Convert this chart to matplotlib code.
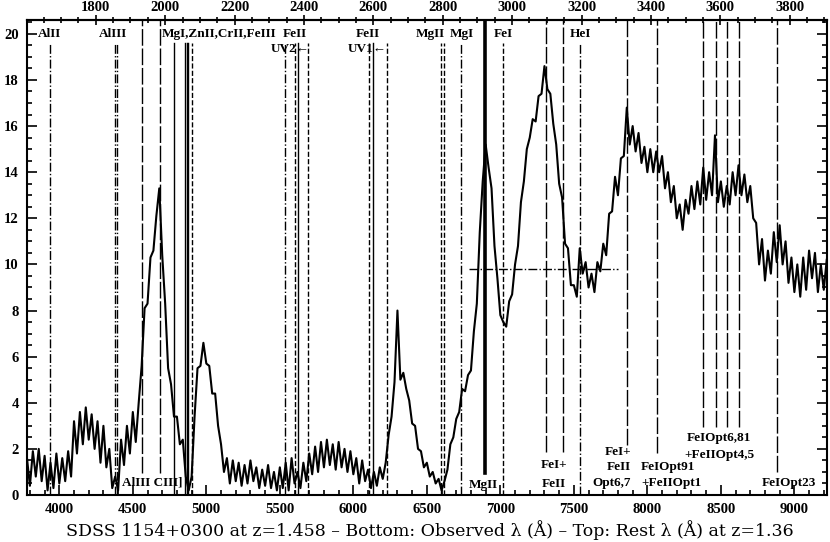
import matplotlib
matplotlib.use("Agg")
import matplotlib.pyplot as plt
from matplotlib.font_manager import FontProperties
from matplotlib.ticker import MultipleLocator, FixedLocator
import numpy as np

# observed wavelength grid (Angstrom) and flux
wave = np.arange(3780, 9221, 20)
flux = [
    1.6, 0.4, 1.9, 0.8, 2.0, 0.6, 1.7, 0.2, 1.4, 0.3,       # 3780
    1.8, 0.5, 1.6, 0.6, 1.9, 0.8, 3.2, 1.8, 3.6, 2.2,       # 3980
    3.8, 2.4, 3.5, 2.0, 3.2, 1.4, 3.0, 1.2, 2.0, 0.3,       # 4180
    0.8, 0.2, 2.4, 1.3, 3.0, 1.8, 3.6, 2.3, 4.0, 5.6,       # 4380
    8.1, 8.3, 10.3, 10.6, 12.1, 13.3, 10.4, 8.3, 5.5, 4.8,  # 4580
    3.4, 3.4, 2.2, 2.4, 0.8, 0.2, 0.8, 3.4, 5.5, 5.6,       # 4780
    6.6, 5.7, 5.6, 4.4, 4.4, 3.0, 2.2, 1.0, 1.6, 0.5,       # 4980
    1.5, 0.6, 1.4, 0.4, 1.3, 0.5, 1.5, 0.6, 1.2, 0.3,       # 5180
    1.1, 0.4, 1.3, 0.3, 1.0, 0.2, 1.2, 0.3, 1.4, 0.2,       # 5380
    1.6, 0.5, 1.0, 0.3, 1.4, 0.6, 1.8, 0.9, 2.1, 1.0,       # 5580
    2.3, 1.2, 2.4, 1.3, 2.2, 1.1, 2.3, 1.2, 2.0, 1.0,       # 5780
    1.9, 0.9, 1.6, 0.5, 1.5, 0.6, 1.1, 0.3, 1.0, 0.4,       # 5980
    1.2, 0.7, 1.4, 2.6, 3.4, 4.9, 8.0, 5.0, 5.3, 4.6,       # 6180
    4.1, 3.1, 3.0, 2.0, 1.9, 1.2, 1.4, 0.8, 1.0, 0.5,       # 6380
    0.7, 0.2, 0.6, 1.1, 2.2, 2.5, 3.3, 3.6, 4.6, 4.5,       # 6580
    5.2, 5.4, 7.1, 8.3, 11.4, 13.6, 15.2, 14.2, 13.3, 10.8, # 6780
    9.4, 7.8, 7.5, 7.3, 8.4, 8.7, 10.0, 10.8, 12.7, 13.6,   # 6980
    15.0, 15.5, 16.3, 16.2, 17.3, 17.4, 18.6, 17.6, 17.4, 16.1,  # 7180
    15.2, 13.5, 12.9, 10.9, 10.7, 9.1, 9.1, 8.6, 10.7, 9.6,      # 7380
    10.1, 9.0, 9.6, 8.8, 10.1, 9.7, 10.9, 10.4, 12.2, 12.3,      # 7580
    13.8, 13.0, 14.6, 14.7, 16.8, 15.2, 16.0, 14.9, 15.7, 14.4,  # 7780
    15.1, 14.0, 15.0, 14.0, 14.9, 14.0, 14.7, 13.3, 14.0, 12.7,  # 7980
    13.4, 12.0, 12.6, 11.5, 12.8, 12.2, 13.4, 12.4, 13.6, 12.6,  # 8180
    14.2, 12.8, 14.0, 13.0, 15.6, 12.7, 13.6, 12.5, 13.4, 12.6,  # 8380
    14.0, 13.0, 14.3, 13.0, 13.9, 12.7, 13.4, 12.0, 11.8, 10.0,  # 8580
    11.1, 9.3, 10.6, 9.6, 11.4, 10.1, 11.7, 10.0, 11.0, 9.2,     # 8780
    10.3, 8.8, 10.0, 8.6, 10.3, 8.9, 10.6, 9.4, 10.5, 8.8,       # 8980
    10.0, 8.9, 10.2,                                             # 9180
]

z_abs = 1.36
rest_ticks = [1800, 2000, 2200, 2400, 2600, 2800, 3000, 3200, 3400, 3600, 3800]

# absorber lines (z=1.36), observed wavelengths, drawn from below the top labels
abs_wave = [3936, 4379, 4392, 4780, 4855, 4867, 4875, 4902, 5532, 5603,
            5623, 5692, 6104, 6136, 6229, 6599, 6616, 6732, 7018, 7542]
abs_style = ['-.', '-.', '-.', '-', '-', '-', '-', '--', '-.', '--',
             '-', '--', '--', '-', '--', '--', '--', '-.', '--', '-.']

# emission lines (z=1.458): observed wavelength and lower end of the tick
em_wave = [4562, 4685, 6896, 7311, 7426, 7862, 8066, 8379, 8467, 8542, 8624, 8882]
em_end = [0.95, 0.95, 0.95, 1.86, 1.86, 2.16, 1.82, 2.94, 2.94, 2.94, 2.94, 1.0]

top_labels = [("AlII", 3930, 20.0, 'center'), ("AlIII", 4365, 20.0, 'center'),
              ("MgI,ZnII,CrII,FeIII", 4700, 20.0, 'left'),
              ("FeII", 5603, 20.0, 'center'), ("UV2\u2190", 5569, 19.35, 'center'),
              ("FeII", 6100, 20.0, 'center'), ("UV1\u2190", 6093, 19.35, 'center'),
              ("MgII", 6521, 20.0, 'center'), ("MgI", 6739, 20.0, 'center'),
              ("FeI", 7018, 20.0, 'center'), ("HeI", 7542, 20.0, 'center')]

bottom_labels = [("AlIII CIII]", 4426, 0.55, 'left'), ("MgII", 6882, 0.45, 'center'),
                 ("FeI+", 7365, 1.30, 'center'), ("FeII", 7365, 0.48, 'center'),
                 ("FeI+", 7889, 1.86, 'right'), ("FeII", 7889, 1.21, 'right'),
                 ("Opt6,7", 7889, 0.52, 'right'),
                 ("FeIOpt91", 7957, 1.21, 'left'), ("+FeIIOpt1", 7957, 0.52, 'left'),
                 ("FeIOpt6,81", 8487, 2.47, 'center'), ("+FeIIOpt4,5", 8487, 1.73, 'center'),
                 ("FeIOpt23", 8964, 0.52, 'center')]

xmin, xmax = 3780, 9222
ymax = 20.6

fig = plt.figure(figsize=(8.3, 5.42), dpi=100)
ax = fig.add_axes([0.0325, 0.0867, 0.9639, 0.8764])

ax.plot(wave, flux, color='black', lw=1.5, zorder=3)

for w, ls in zip(abs_wave, abs_style):
    ax.plot([w, w], [0, 19.6], color='black', lw=1.0, ls=ls)
for w, e in zip(em_wave, em_end):
    if w == 6896:
        ax.plot([w, w], [e, ymax], color='black', lw=2.6)
    else:
        ax.plot([w, w], [e, ymax], color='black', lw=1.0, ls=(0, (12, 2)))

# half-height marker across MgII
ax.plot([6787, 7800], [9.8, 9.8], color='black', lw=1.0, ls='-.')

lab_font = dict(family='Liberation Serif', weight='bold', fontsize=9.5)
for t, x, y, ha in top_labels:
    ax.text(x, y, t, ha=ha, va='center', **lab_font)
for t, x, y, ha in bottom_labels:
    ax.text(x, y, t, ha=ha, va='center', **lab_font)

ax.set_xlim(xmin, xmax)
ax.set_ylim(0, ymax)

tick_fp = FontProperties(family='Liberation Serif', weight='bold', size=10.5)
ax.xaxis.set_major_locator(MultipleLocator(500))
ax.xaxis.set_minor_locator(MultipleLocator(100))
ax.yaxis.set_major_locator(MultipleLocator(2))
ax.yaxis.set_minor_locator(MultipleLocator(0.5))
ax.tick_params(which='both', direction='in', top=False, right=True, width=1.2)
ax.tick_params(which='major', length=7)
ax.tick_params(which='minor', length=3.6)
ax.tick_params(axis='x', pad=6)
ax.tick_params(axis='y', pad=6)
for lbl in ax.get_xticklabels() + ax.get_yticklabels():
    lbl.set_fontproperties(tick_fp)

top = ax.secondary_xaxis('top', functions=(lambda x: x / (1 + z_abs),
                                           lambda x: x * (1 + z_abs)))
top.xaxis.set_major_locator(FixedLocator(rest_ticks))
top.xaxis.set_minor_locator(MultipleLocator(50))
top.tick_params(which='both', direction='inout', width=1.2, pad=1)
top.tick_params(which='major', length=7)
top.tick_params(which='minor', length=5)
for lbl in top.get_xticklabels():
    lbl.set_fontproperties(tick_fp)

for s in ax.spines.values():
    s.set_linewidth(1.5)
top.spines['top'].set_linewidth(1.5)

fig.text(0.518, 0.022,
         "SDSS 1154+0300 at z=1.458 \u2013 Bottom: Observed \u03bb (\u00c5) \u2013 Top: Rest \u03bb (\u00c5) at z=1.36",
         ha='center', va='center', family='DejaVu Serif', fontsize=12.5)

fig.savefig("out.png", dpi=100)
